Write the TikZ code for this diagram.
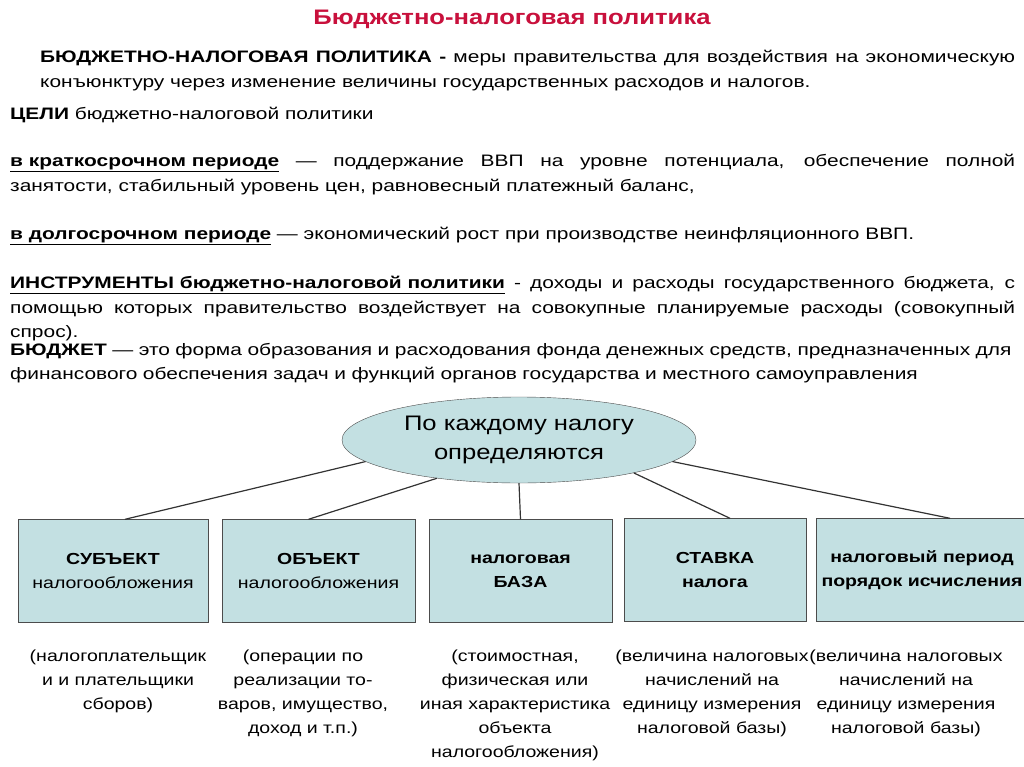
\documentclass[tikz,border=0pt]{standalone}
\usepackage{fontspec}
\setmainfont[FakeStretch=1.22]{Liberation Sans}
\newfontfamily\wideff[FakeStretch=1.26]{Liberation Sans}
\usetikzlibrary{shapes.geometric}
\definecolor{tl}{HTML}{C3E0E2}
\definecolor{tt}{HTML}{C8103C}
\begin{document}
\begin{tikzpicture}[x=1pt,y=-1pt,
 bx/.style={draw=black!70,fill=tl,minimum width=#1,minimum height=103,inner sep=0,align=center,font=\fontsize{16}{24}\selectfont},
 par/.style={anchor=north west,inner sep=0,align=justify,font=\wideff\fontsize{16.6}{24.5}\selectfont},
 low/.style={anchor=north,inner sep=0,align=center,font=\fontsize{16}{23.8}\selectfont},
 ln/.style={draw=black!80,line width=1.2pt}]
\useasboundingbox (0,0) rectangle (1024,767);
\node[font=\bfseries\fontsize{21}{22}\selectfont,text=tt] (t) at (512,19) {Бюджетно-налоговая политика};
\node[par,text width=975] (p1) at (40,50) {\textbf{БЮДЖЕТНО-НАЛОГОВАЯ ПОЛИТИКА -} меры правительства для воздействия на экономическую конъюнктуру через изменение величины государственных расходов и налогов.};
\node[par] (p2) at (10,107) {\textbf{ЦЕЛИ} бюджетно-налоговой политики};
\node[par,text width=1005] (p3) at (10,154) {\textbf{\underline{в краткосрочном периоде}} — поддержание ВВП на уровне потенциала, обеспечение полной занятости, стабильный уровень цен, равновесный платежный баланс,};
\node[par] (p4) at (10,227) {\textbf{\underline{в долгосрочном периоде}} — экономический рост при производстве неинфляционного ВВП.};
\node[par,text width=1005] (p5) at (10,276) {\textbf{\underline{ИНСТРУМЕНТЫ бюджетно-налоговой политики}} - доходы и расходы государственного бюджета, с помощью которых правительство воздействует на совокупные планируемые расходы (совокупный спрос).};
\node[par,text width=1005,align=left] (p6) at (10,343) {\textbf{БЮДЖЕТ} — это форма образования и расходования фонда денежных средств, предназначенных для финансового обеспечения задач и функций органов государства и местного самоуправления};
\node[ellipse,draw=black!70,fill=tl,minimum width=354,minimum height=86,align=center,font=\fontsize{21}{29}\selectfont] (e) at (519,440) {По каждому налогу\\определяются};
\node[bx=190] (b1) at (113,571) {\textbf{СУБЪЕКТ}\\налогообложения};
\node[bx=193] (b2) at (318.5,571) {\textbf{ОБЪЕКТ}\\налогообложения};
\node[bx=183] (b3) at (520.5,571) {\textbf{налоговая}\\\textbf{БАЗА}};
\node[bx=182] (b4) at (715,570) {\textbf{СТАВКА}\\\textbf{налога}};
\node[bx=212] (b5) at (922,570) {\textbf{налоговый период}\\\textbf{порядок исчисления}};
\draw[ln] (e.188) -- ([xshift=12]b1.north);
\draw[ln] (e.205) -- ([xshift=-10]b2.north);
\draw[ln] (e.south) -- (b3.north);
\draw[ln] (e.344) -- ([xshift=15]b4.north);
\draw[ln] (e.352) -- ([xshift=28]b5.north);
\node[low] (d1) at (118,650) {(налогоплательщик\\и и плательщики\\сборов)};
\node[low] (d2) at (303,650) {(операции по\\реализации то-\\варов, имущество,\\доход и т.п.)};
\node[low] (d3) at (515,650) {(стоимостная,\\физическая или\\иная характеристика\\объекта\\налогообложения)};
\node[low] (d4) at (712,650) {(величина налоговых\\начислений на\\единицу измерения\\налоговой базы)};
\node[low] (d5) at (906,650) {(величина налоговых\\начислений на\\единицу измерения\\налоговой базы)};
\end{tikzpicture}
\end{document}
